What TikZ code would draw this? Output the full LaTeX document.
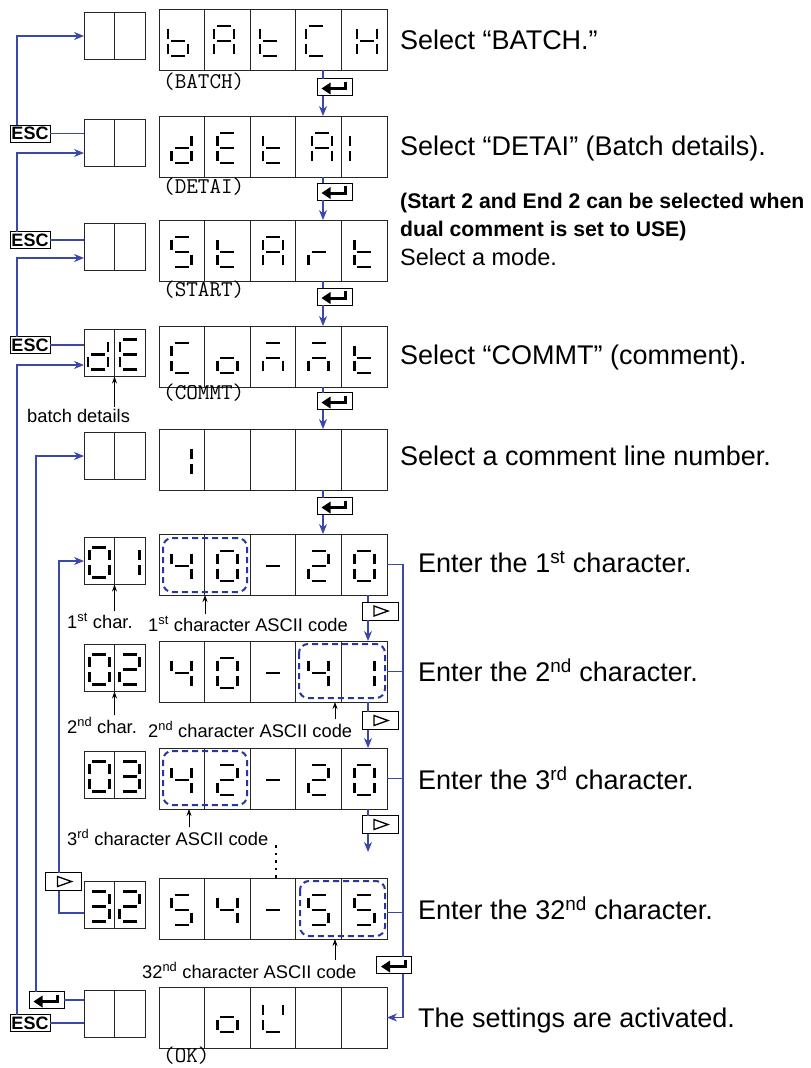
\documentclass[tikz,border=0pt]{standalone}
\usepackage{fontspec}
\setmainfont{Liberation Sans}
\usetikzlibrary{arrows.meta}
\definecolor{lb}{RGB}{58,72,170}
\definecolor{db}{RGB}{40,55,160}
\tikzset{
 mainbox/.style={draw=black!85, line width=0.9pt, minimum width=228pt, minimum height=61pt, inner sep=0pt, outer sep=0pt},
 smallbox/.style={draw=black!85, line width=0.9pt, minimum width=61pt, minimum height=47pt, inner sep=0pt, outer sep=0pt},
 divline/.style={draw=black!85, line width=0.9pt},
 conn/.style={draw=lb, line width=1.1pt},
 carr/.style={conn, -{Stealth[length=10pt,width=8pt]}},
 larr/.style={draw=black, line width=0.8pt, -{Stealth[length=7pt,width=5pt]}, shorten <=2pt},
 esckey/.style={draw=black, line width=1pt, fill=white, minimum width=40pt, minimum height=17pt, inner sep=0pt, outer sep=0pt, font=\bfseries\fontsize{18}{18}\selectfont},
 keybox/.style={draw=black, line width=1pt, fill=white, minimum width=35pt, minimum height=17pt, inner sep=0pt, outer sep=0pt},
 sl/.style={line width=2.7pt, line cap=butt},
 dsel/.style={draw=db, line width=2pt, dash pattern=on 6pt off 4pt, rounded corners=9pt},
 desc/.style={anchor=base west, inner sep=0pt, font=\fontsize{27}{30}\selectfont},
 descm/.style={anchor=base west, inner sep=0pt, font=\fontsize{23.5}{28}\selectfont},
 descb/.style={anchor=base west, inner sep=0pt, font=\bfseries\fontsize{21.2}{26}\selectfont},
 lbl/.style={anchor=base west, inner sep=0pt, font=\fontsize{18.3}{20}\selectfont},
 code/.style={anchor=base west, inner sep=0pt, font=\ttfamily\fontsize{22.5}{22}\selectfont},
 dots/.style={line width=2.5pt, dash pattern=on 2.5pt off 5pt},
}
\def\dsga{\draw[sl] (-7,-15)--(7,-15);}
\def\dsgb{\draw[sl] (10,-12.5)--(10,-2.5);}
\def\dsgc{\draw[sl] (10,2.5)--(10,12.5);}
\def\dsgd{\draw[sl] (-7,15)--(7,15);}
\def\dsge{\draw[sl] (-10,2.5)--(-10,12.5);}
\def\dsgf{\draw[sl] (-10,-12.5)--(-10,-2.5);}
\def\dsgg{\draw[sl] (-7,0)--(7,0);}
\newcommand\dg[3]{\begin{scope}[shift={(#1,#2)}]\foreach \s in {#3}{\csname dsg\s\endcsname}\end{scope}}
\newcommand\disp[2]{%
 \node[mainbox] (m#1) at (273,#2+30.5) {};
 \node[smallbox] (s#1) at (114.5,#2+27) {};
 \foreach \xx in {204.6,250.2,295.8,341.4} \draw[divline] (\xx,#2) -- (\xx,#2+61);
 \draw[divline] (114.5,#2+3.5) -- (114.5,#2+50.5);
}
\newcommand\enterkey[3]{%
 \node[keybox] (#1) at (#2,#3) {};
 \begin{scope}[shift={(#2,#3)}]
  \draw[line width=3pt] (11,-5.5) -- (11,1.5) -- (-5,1.5);
  \fill (-13,1.5) -- (-4,-4.5) -- (-4,7.5) -- cycle;
 \end{scope}}
\newcommand\playkey[3]{%
 \node[keybox, minimum width=36pt, minimum height=18pt] (#1) at (#2,#3) {};
 \draw[line width=1.3pt, line join=miter, shift={(#2,#3)}] (-6,-5) -- (8,0) -- (-6,5) -- cycle;}
\begin{document}
\begin{tikzpicture}[x=1pt,y=-1pt]
\useasboundingbox (0,0) rectangle (811,1068);
% displays
\disp{1}{9} \disp{2}{116} \disp{3}{220} \disp{4}{326} \disp{5}{429}
\disp{6}{534} \disp{7}{641} \disp{8}{748} \disp{9}{878} \disp{10}{987}
% selection frames
\draw[dsel] (163,538) rectangle (247,592);
\draw[dsel] (299,644) rectangle (385,698);
\draw[dsel] (163,751) rectangle (247,805);
\draw[dsel] (300,881) rectangle (385,936);
% digits row 1: bAtCH
\dg{178}{41}{c,d,e,f,g} \dg{224}{41}{a,b,c,e,f,g} \dg{270}{41}{d,e,f,g} \dg{316}{41}{a,d,e,f} \dg{367}{41}{b,c,e,f,g}
% row 2: dEtAI
\dg{181.8}{148}{b,c,d,e,g} \dg{227.4}{148}{a,d,e,f,g} \dg{273}{148}{d,e,f,g} \dg{322}{148}{a,b,c,e,f,g} \dg{360}{148}{e,f}
% row 3: StArt
\dg{181.8}{252}{a,c,d,f,g} \dg{227.4}{252}{d,e,f,g} \dg{273}{252}{a,b,c,e,f,g} \dg{318.6}{252}{e,g} \dg{364.2}{252}{d,e,f,g}
% row 4: COMMT
\dg{181.8}{358}{a,d,e,f} \dg{227.4}{358}{c,d,e,g} \dg{273}{358}{a,c,e,g} \dg{318.6}{358}{a,c,e,g} \dg{364.2}{358}{d,e,f,g}
\dg{98}{354.5}{b,c,d,e,g} \dg{130}{354.5}{a,d,e,f,g}
% row 5
\dg{181.8}{461}{b,c}
% row 6: 01 / 40-20
\dg{99.25}{562.5}{a,b,c,d,e,f} \dg{129.75}{562.5}{b,c}
\dg{181.8}{566}{b,c,f,g} \dg{227.4}{566}{a,b,c,d,e,f} \dg{273}{566}{g} \dg{318.6}{566}{a,b,d,e,g} \dg{364.2}{566}{a,b,c,d,e,f}
% row 7: 02 / 40-41
\dg{99.25}{669.5}{a,b,c,d,e,f} \dg{129.75}{669.5}{a,b,d,e,g}
\dg{181.8}{673}{b,c,f,g} \dg{227.4}{673}{a,b,c,d,e,f} \dg{273}{673}{g} \dg{318.6}{673}{b,c,f,g} \dg{364.2}{673}{b,c}
% row 8: 03 / 42-20
\dg{99.25}{776.5}{a,b,c,d,e,f} \dg{129.75}{776.5}{a,b,c,d,g}
\dg{181.8}{780}{b,c,f,g} \dg{227.4}{780}{a,b,d,e,g} \dg{273}{780}{g} \dg{318.6}{780}{a,b,d,e,g} \dg{364.2}{780}{a,b,c,d,e,f}
% row 9: 32 / 54-55
\dg{99.25}{906.5}{a,b,c,d,g} \dg{129.75}{906.5}{a,b,d,e,g}
\dg{181.8}{910}{a,c,d,f,g} \dg{227.4}{910}{b,c,f,g} \dg{273}{910}{g} \dg{318.6}{910}{a,c,d,f,g} \dg{364.2}{910}{a,c,d,f,g}
% row 10: oK
\dg{227.4}{1017}{c,d,e,g} \dg{273}{1017}{b,d,e,f}
% code labels
\node[code] (lb1) at (163,88) {(BATCH)};
\node[code] (lb2) at (163,193) {(DETAI)};
\node[code] (lb3) at (163,296) {(START)};
\node[code] (lb4) at (163,399) {(COMMT)};
\node[code] (lb10) at (163,1062) {(OK)};
% helper coordinates
\coordinate (v1) at (17,0);
\coordinate (v2) at (36,0);
\coordinate (v3) at (59,0);
\coordinate (vr) at (403,0);
\coordinate (ax) at (323,0);
\coordinate (px) at (368,0);
\coordinate (d1) at (205,0);
\coordinate (d2) at (335,0);
\coordinate (d3) at (189,0);
\coordinate (dt) at (276,0);
\coordinate (e8) at (368,852);
% keys
\node[esckey] (esc2) at (30,133.5) {ESC};
\node[esckey] (esc3) at (30,240) {ESC};
\node[esckey] (esc4) at (30,345) {ESC};
\node[esckey] (esc10) at (30,1023) {ESC};
\enterkey{ent10}{46.5}{1000}
\playkey{pl9}{63.5}{881.5}
\enterkey{k1}{334.5}{87}
\enterkey{k2}{334.5}{191.5}
\enterkey{k3}{334.5}{296.5}
\enterkey{k4}{334.5}{401}
\enterkey{k5}{334.5}{506}
\playkey{p6}{380}{611}
\playkey{p7}{380}{720.5}
\playkey{p8}{380}{824.5}
\enterkey{ent9}{394}{965}
% left connectors
\draw[conn] (esc2.east) -- (esc2.east -| s2.west);
\draw[carr] (esc2.north -| v1) |- (s1.west);
\draw[conn] (esc3.east) -- (esc3.east -| s3.west);
\draw[carr] (esc3.north -| v1) |- ([yshift=-10pt]s2.west);
\draw[conn] (esc4.east) -- (esc4.east -| s4.west);
\draw[carr] (esc4.north -| v1) |- ([yshift=-11pt]s3.west);
\draw[conn] (esc10.east) -- (esc10.east -| s10.west);
\draw[carr] (esc10.north -| v1) |- ([yshift=-12pt]s4.west);
\draw[conn] (ent10.east) -- (ent10.east -| s10.west);
\draw[carr] (ent10.north -| v2) |- (s5.west);
\draw[conn] ([yshift=-8pt]s9.west) -| (pl9.south -| v3);
\draw[carr] (pl9.north -| v3) |- (s6.west);
% right connectors
\draw[conn] (m6.east) -| (ent9.north -| vr);
\draw[carr] (ent9.south -| vr) |- (m10.east);
\draw[conn] (m7.east) -- (m7.east -| vr);
\draw[conn] (m8.east) -- (m8.east -| vr);
\draw[conn] ([yshift=-4pt]m9.east) -- ([yshift=-4pt]m9.east -| vr);
% down connectors
\foreach \i/\j in {1/2,2/3,3/4,4/5,5/6} {
 \draw[conn] (m\i.south -| ax) -- (k\i.north -| ax);
 \draw[carr] (k\i.south -| ax) -- (m\j.north -| ax);
}
\draw[conn] (m6.south -| px) -- (p6.north -| px);
\draw[carr] (p6.south -| px) -- (m7.north -| px);
\draw[conn] (m7.south -| px) -- (p7.north -| px);
\draw[carr] (p7.south -| px) -- (m8.north -| px);
\draw[conn] (m8.south -| px) -- (p8.north -| px);
\draw[carr] (p8.south -| px) -- (e8);
% small labels
\node[lbl] (bd) at (27,422) {batch details};
\node[lbl] (c1) at (67,628) {1\textsuperscript{st} char.};
\node[lbl] (a1) at (148,631) {1\textsuperscript{st} character ASCII code};
\node[lbl] (c2) at (67,733) {2\textsuperscript{nd} char.};
\node[lbl] (a2) at (148,737) {2\textsuperscript{nd} character ASCII code};
\node[lbl] (a3) at (67,845) {3\textsuperscript{rd} character ASCII code};
\node[lbl] (a32) at (142,978) {32\textsuperscript{nd} character ASCII code};
\draw[larr] (bd.north -| s4.south) -- (s4.south);
\draw[larr] (c1.north -| s6.south) -- (s6.south);
\draw[larr] (a1.north -| d1) -- (m6.south -| d1);
\draw[larr] (c2.north -| s7.south) -- (s7.south);
\draw[larr] (a2.north -| d2) -- (m7.south -| d2);
\draw[larr] (a3.north -| d3) -- (m8.south -| d3);
\draw[larr] (a32.north -| d2) -- (m9.south -| d2);
\draw[dots] (dt |- a3.base) -- (m9.north -| dt);
% descriptions
\node[desc] (t1) at (400,49.5) {Select “BATCH.”};
\node[desc] (t2) at (400,155.5) {Select “DETAI” (Batch details).};
\node[descb] (t3a) at (400,208) {(Start 2 and End 2 can be selected when};
\node[descb] (t3b) at (400,236) {dual comment is set to USE)};
\node[descm] (t3c) at (400,265) {Select a mode.};
\node[desc] (t4) at (400,364.5) {Select “COMMT” (comment).};
\node[desc] (t5) at (400,465) {Select a comment line number.};
\node[desc] (t6) at (418,572.5) {Enter the 1\textsuperscript{st} character.};
\node[desc] (t7) at (418,681.5) {Enter the 2\textsuperscript{nd} character.};
\node[desc] (t8) at (418,789.5) {Enter the 3\textsuperscript{rd} character.};
\node[desc] (t9) at (418,919.5) {Enter the 32\textsuperscript{nd} character.};
\node[desc] (t10) at (418,1027.5) {The settings are activated.};
\end{tikzpicture}
\end{document}
